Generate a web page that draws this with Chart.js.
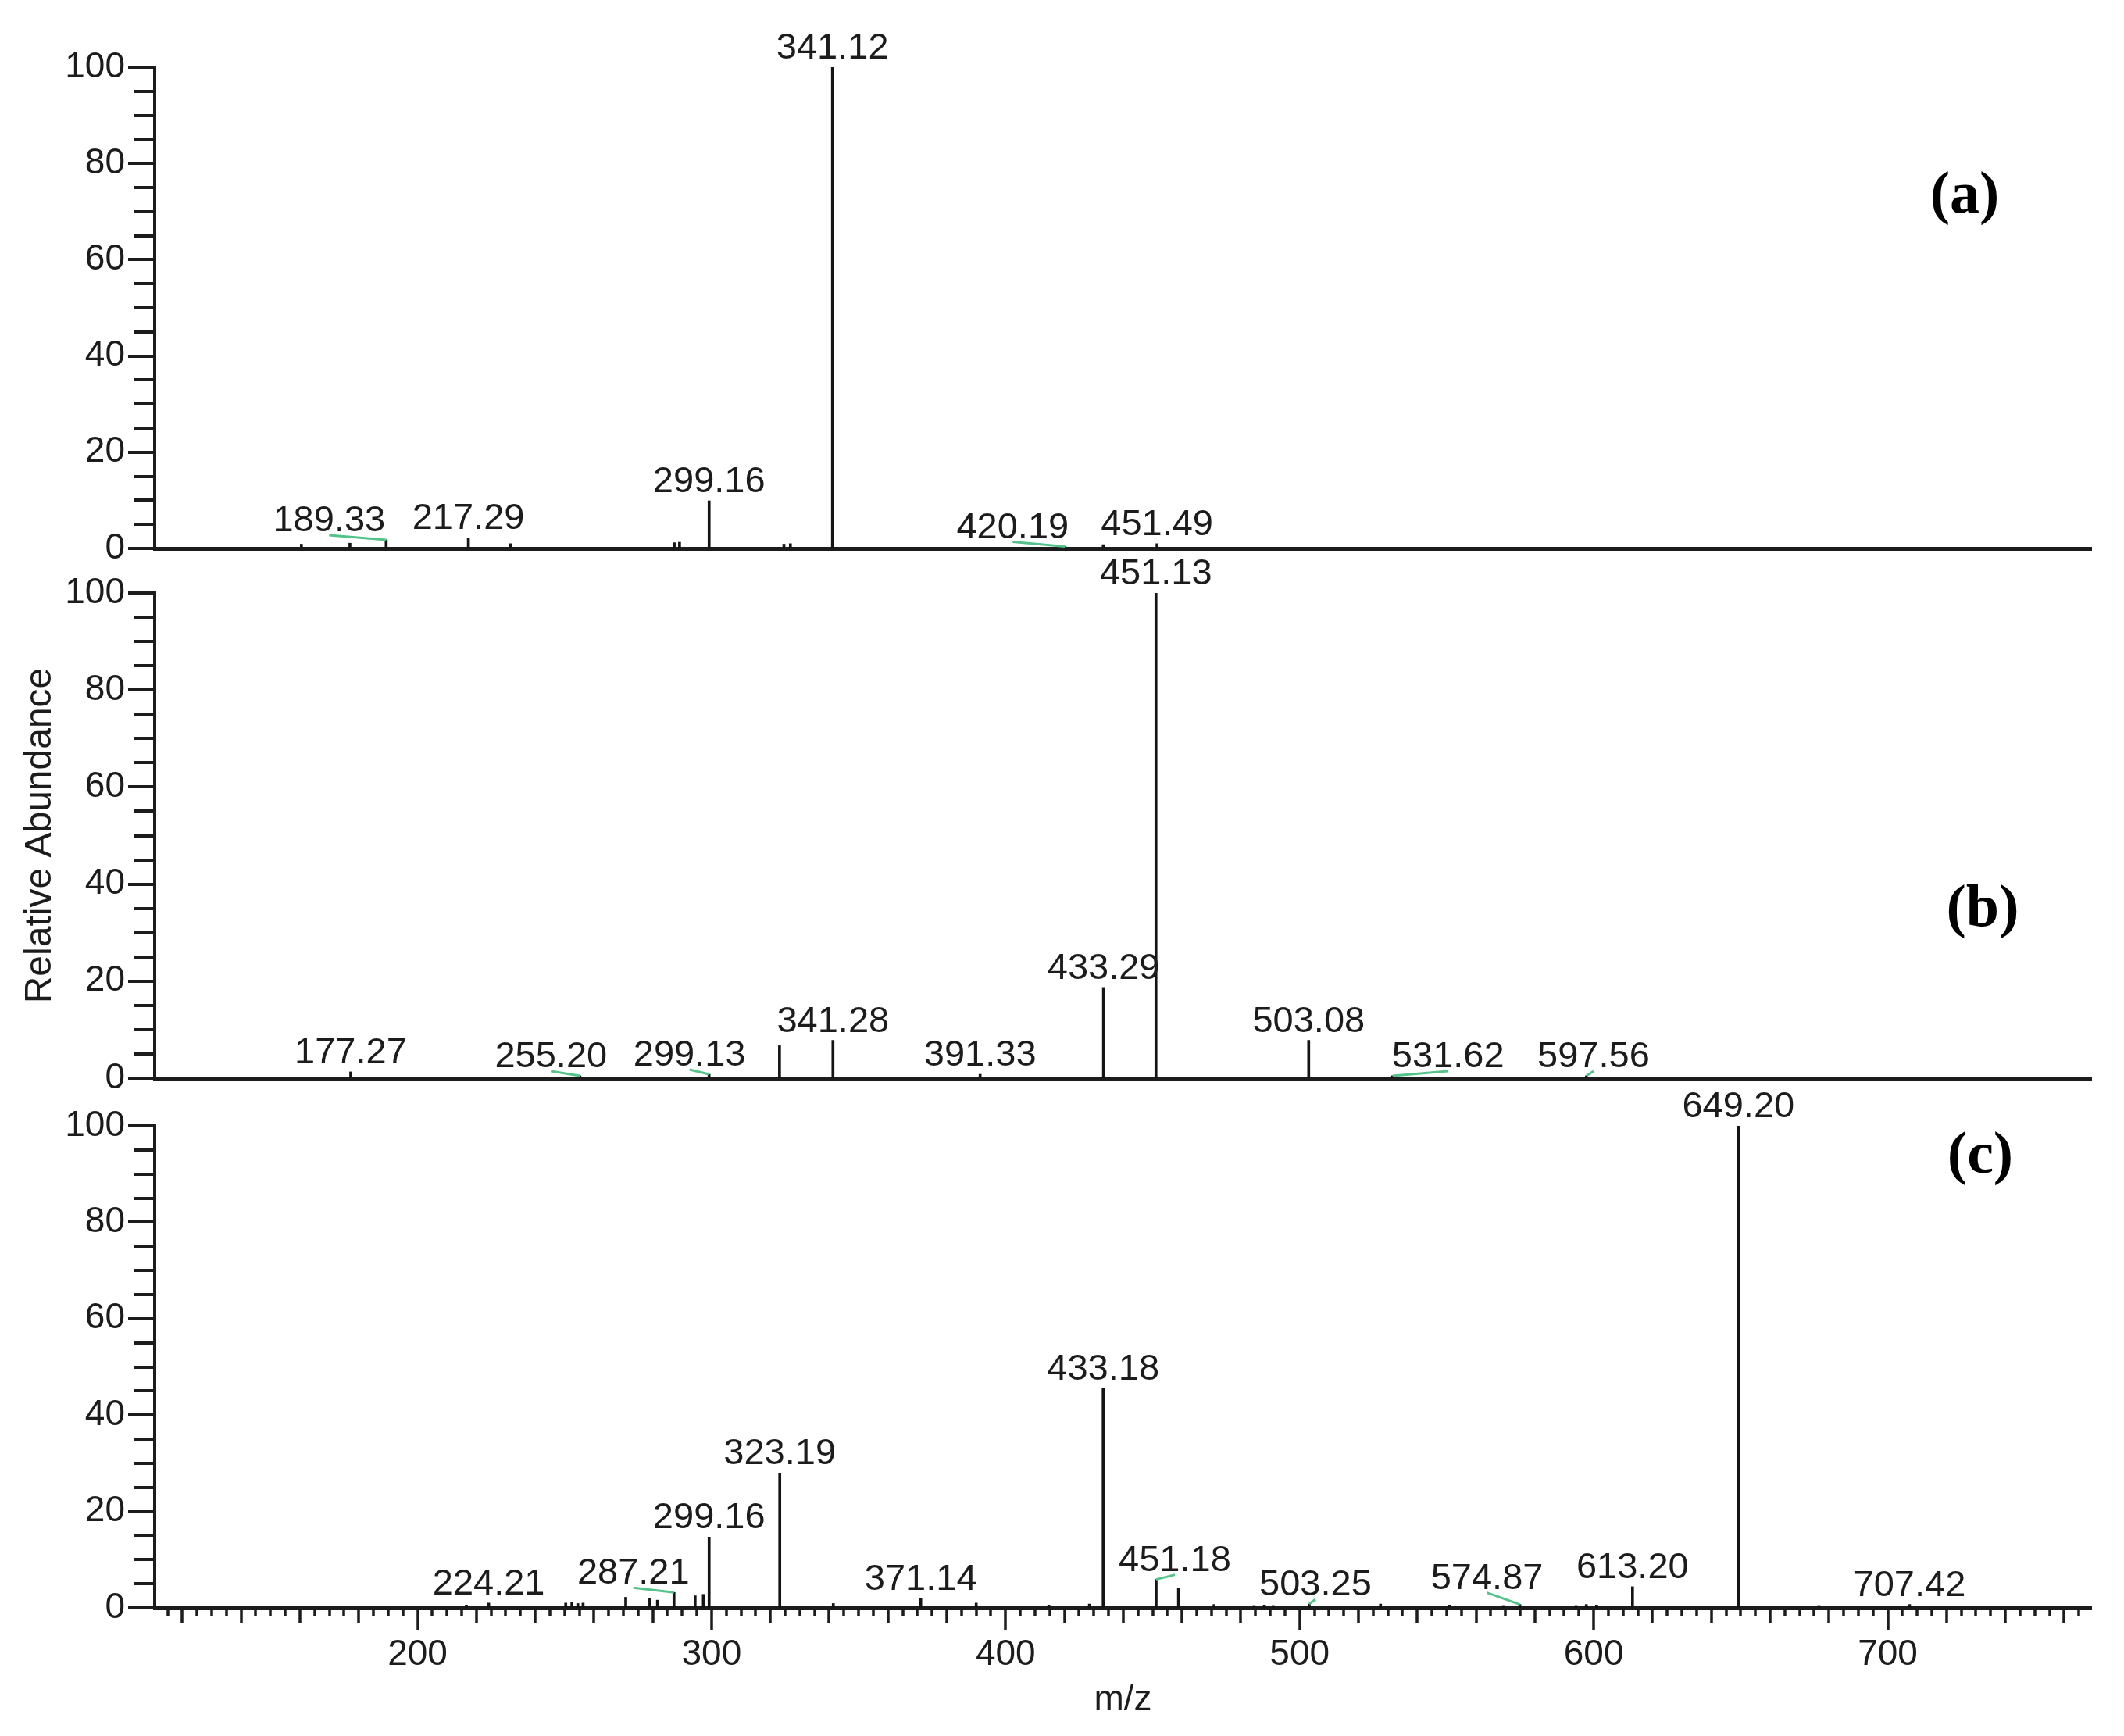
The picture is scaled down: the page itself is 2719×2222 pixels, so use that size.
<!DOCTYPE html>
<html>
<head>
<meta charset="utf-8">
<script src="https://cdn.jsdelivr.net/npm/chart.js@4.4.1/dist/chart.umd.min.js"></script>
<style>
  html, body { margin: 0; padding: 0; background: #fff; }
  #wrap { position: relative; width: 2719px; height: 2222px; overflow: hidden; }
  canvas { position: absolute; left: 0; }
</style>
</head>
<body>
<div id="wrap">
  <canvas id="panelA" width="2719" height="770" style="top:0px"></canvas>
  <canvas id="panelB" width="2719" height="768" style="top:680px"></canvas>
  <canvas id="panelC" width="2719" height="852" style="top:1370px"></canvas>
</div>
<script>
// shared m/z window and tick labels
const mzMin = 110.6;
const mzMax = 769.2;
const xTickLabels = [200, 300, 400, 500, 600, 700];
const yTickLabels = [0, 20, 40, 60, 80, 100];

// (a) spectrum
const mzA = [160.5, 177.0, 189.33, 217.29, 231.7, 287.3, 289.1, 299.16, 324.6, 326.8, 341.12, 420.19, 433.2, 451.49];
const abundA = [0.9, 1.1, 1.8, 2.2, 1.0, 1.2, 1.3, 9.9, 0.9, 1.0, 100, 0.4, 0.8, 1.0];
const labeledA = [189.33, 217.29, 299.16, 341.12, 420.19, 451.49];

// (b) spectrum
const mzB = [177.27, 255.2, 299.13, 323.1, 341.28, 391.33, 433.29, 451.13, 503.08, 531.62, 597.56];
const abundB = [1.3, 0.5, 0.8, 6.7, 7.8, 0.8, 18.7, 100, 7.8, 0.5, 0.5];
const labeledB = [177.27, 255.2, 299.13, 341.28, 391.33, 433.29, 451.13, 503.08, 531.62, 597.56];

// (c) spectrum
const mzC = [216.6, 224.21, 250.4, 252.5, 254.5, 256.3, 270.8, 279.0, 281.6, 287.21,
  294.4, 297.2, 299.16, 323.19, 341.4, 371.14, 390.0, 414.7, 428.5, 433.18,
  451.18, 458.8, 470.9, 484.5, 488.0, 491.0, 503.25, 527.5, 551.0, 569.3,
  574.87, 594.0, 597.5, 601.0, 613.2, 649.2, 676.6, 707.42];
const abundC = [0.6, 1.0, 1.0, 1.2, 0.9, 1.0, 2.2, 2.0, 1.6, 3.2,
  2.5, 2.8, 14.7, 28.0, 0.9, 2.0, 1.0, 0.6, 0.8, 45.5,
  5.9, 4.0, 0.7, 0.5, 0.6, 0.5, 0.8, 0.8, 0.6, 0.5,
  0.7, 0.5, 0.7, 0.6, 4.4, 100, 0.5, 0.7];
const labeledC = [224.21, 287.21, 299.16, 323.19, 371.14, 433.18, 451.18, 503.25, 574.87, 613.2, 649.2, 707.42];

// labels the acquisition software pushed sideways (px), joined to the peak by a green leader
const shiftA = { 189.33: [-73, 0], 420.19: [-67, 0] };
const shiftB = { 255.2: [-37, 0], 299.13: [-25, 0], 531.62: [71, 0], 597.56: [9, 0] };
const shiftC = { 287.21: [-52, 0], 451.18: [24, 0], 503.25: [8, 0], 574.87: [-42, -9] };

const SANS = "'Liberation Sans', Arial, sans-serif";
const INK = '#1c1c1c';

// minor/major tick marks drawn off the library scales
const axisTicks = {
  id: 'axisTicks',
  afterDraw(chart, args, opts) {
    const { ctx, chartArea: a, scales: { x, y } } = chart;
    ctx.save();
    ctx.strokeStyle = INK;
    ctx.lineWidth = 4;
    ctx.beginPath();
    for (let v = y.min; v <= y.max; v += 5) {
      const py = Math.round(y.getPixelForValue(v));
      const len = v % 20 === 0 ? 34 : 26;
      ctx.moveTo(a.left - len, py);
      ctx.lineTo(a.left, py);
    }
    ctx.stroke();
    if (opts.showX) {
      ctx.lineWidth = 3.5;
      ctx.beginPath();
      for (let v = Math.ceil(x.min / 5) * 5; v <= x.max; v += 5) {
        const px = Math.round(x.getPixelForValue(v));
        const len = v % 100 === 0 ? 28 : (v % 20 === 0 ? 20 : 10);
        ctx.moveTo(px, a.bottom);
        ctx.lineTo(px, a.bottom + len);
      }
      ctx.stroke();
    }
    ctx.restore();
  }
};

// m/z annotations above the peaks
const peakLabels = {
  id: 'peakLabels',
  afterDatasetsDraw(chart, args, opts) {
    const ctx = chart.ctx;
    const meta = chart.getDatasetMeta(0);
    const pts = chart.data.datasets[0].data;
    ctx.save();
    ctx.font = '47px ' + SANS;
    ctx.textAlign = 'center';
    ctx.textBaseline = 'alphabetic';
    opts.labels.forEach(m => {
      const i = pts.findIndex(p => p.x === m);
      if (i < 0) return;
      const bar = meta.data[i];
      const sh = opts.shift[m];
      const dx = sh ? sh[0] : 0, dy = sh ? sh[1] : 0;
      const tx = bar.x + dx, ty = bar.y - 11 + dy;
      if (sh) {
        ctx.strokeStyle = '#52c48a';
        ctx.lineWidth = 3;
        ctx.beginPath();
        ctx.moveTo(tx, ty + 5);
        ctx.lineTo(bar.x, bar.y);
        ctx.stroke();
      }
      ctx.fillStyle = INK;
      ctx.fillText(m.toFixed(2), tx, ty);
    });
    ctx.restore();
  }
};

// (a)/(b)/(c) panel tags
const panelTag = {
  id: 'panelTag',
  afterDraw(chart, args, opts) {
    const { ctx, chartArea: a } = chart;
    ctx.save();
    ctx.font = "bold 76px 'Liberation Serif', 'Times New Roman', serif";
    ctx.fillStyle = '#000';
    ctx.textAlign = 'center';
    ctx.textBaseline = 'middle';
    ctx.fillText(opts.text, a.right + opts.dx, a.top + opts.dy - 7);
    ctx.restore();
  }
};

function makeSpectrum(id, mz, abund, labels, shift, cfg) {
  return new Chart(document.getElementById(id), {
    type: 'bar',
    data: {
      datasets: [{
        data: mz.map((m, i) => ({ x: m, y: abund[i] })),
        backgroundColor: '#141414',
        borderWidth: 0,
        barThickness: 3
      }]
    },
    options: {
      responsive: false,
      animation: false,
      devicePixelRatio: 1,
      layout: { padding: { top: cfg.top, right: 42, left: 0, bottom: 0 } },
      plugins: {
        legend: { display: false },
        tooltip: { enabled: false },
        axisTicks: { showX: cfg.showX },
        peakLabels: { labels, shift },
        panelTag: cfg.tag
      },
      scales: {
        x: {
          type: 'linear',
          min: mzMin,
          max: mzMax,
          offset: false,
          grid: { display: false, drawTicks: false },
          border: { display: true, color: INK, width: 5 },
          ticks: { display: cfg.showX, font: { family: SANS, size: 46 }, color: INK, padding: 33, maxRotation: 0, autoSkip: false },
          afterBuildTicks: s => { s.ticks = xTickLabels.map(v => ({ value: v })); },
          title: { display: cfg.showX, text: 'm/z', font: { family: SANS, size: 46 }, color: INK, padding: { top: 0, bottom: 18 } },
          afterFit: s => { s.height = cfg.xHeight; }
        },
        y: {
          min: 0,
          max: 100,
          grid: { display: false, drawTicks: false },
          border: { display: true, color: INK, width: 4 },
          ticks: { font: { family: SANS, size: 46 }, color: INK, padding: 38 },
          afterBuildTicks: s => { s.ticks = yTickLabels.map(v => ({ value: v })); },
          title: { display: !!cfg.yTitle, text: 'Relative Abundance', font: { family: SANS, size: 48 }, color: INK, padding: { top: 23, bottom: 0 } },
          afterFit: s => { s.width = 198; }
        }
      }
    },
    plugins: [axisTicks, peakLabels, panelTag]
  });
}

makeSpectrum('panelA', mzA, abundA, labeledA, shiftA,
  { top: 86, xHeight: 68, showX: false, yTitle: false, tag: { text: '(a)', dx: -162, dy: 173 } });
makeSpectrum('panelB', mzB, abundB, labeledB, shiftB,
  { top: 79, xHeight: 68, showX: false, yTitle: true, tag: { text: '(b)', dx: -139, dy: 413 } });
makeSpectrum('panelC', mzC, abundC, labeledC, shiftC,
  { top: 71, xHeight: 164, showX: true, yTitle: false, tag: { text: '(c)', dx: -142, dy: 47 } });
</script>
</body>
</html>
